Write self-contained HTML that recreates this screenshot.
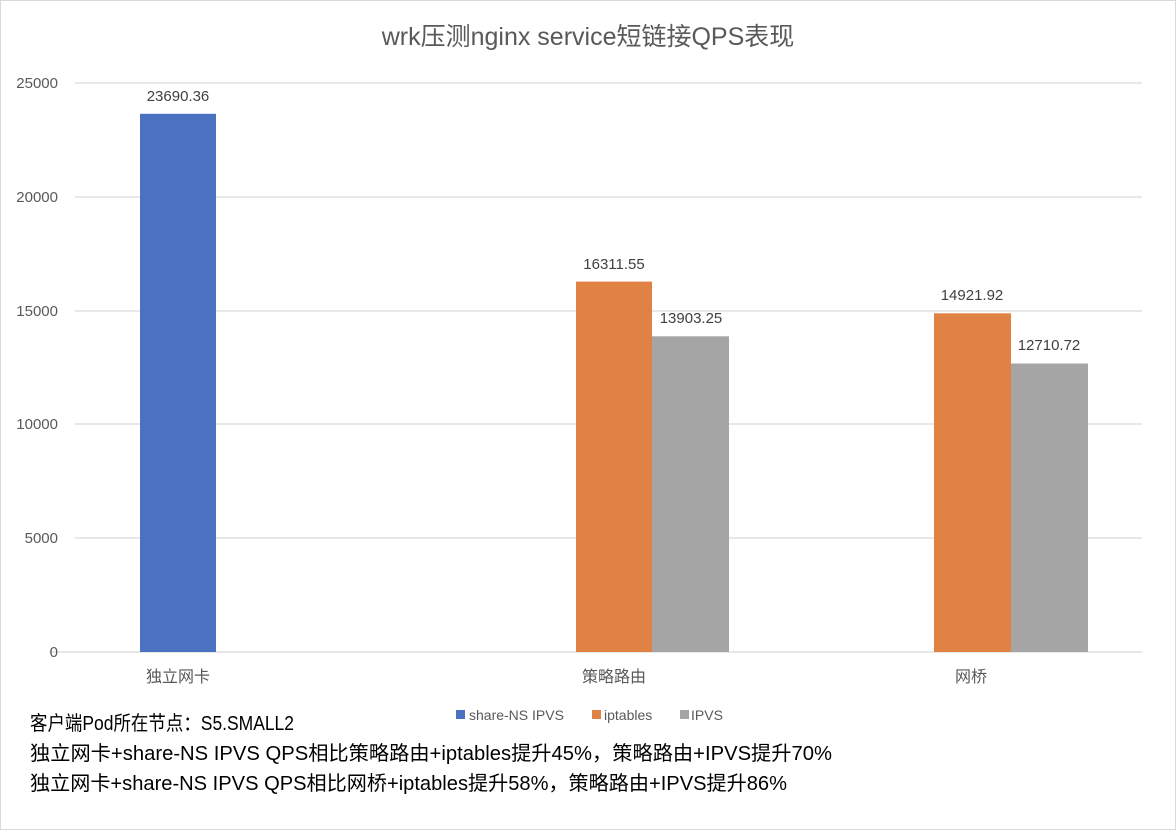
<!DOCTYPE html>
<html><head><meta charset="utf-8"><style>
body{margin:0;background:#fff}
svg text{font-family:"Liberation Sans","Noto Sans CJK SC",sans-serif}
</style></head><body>
<svg width="1176" height="830" viewBox="0 0 1176 830" xmlns="http://www.w3.org/2000/svg">
<rect x="0.5" y="0.5" width="1175" height="829" fill="#fff" stroke="#d9d9d9"/>
<text x="588" y="45" text-anchor="middle" font-size="25" fill="#595959">wrk压测nginx service短链接QPS表现</text>
<g stroke="#d9d9d9" stroke-width="1.3">
<line x1="75" x2="1142" y1="83" y2="83"/>
<line x1="75" x2="1142" y1="197" y2="197"/>
<line x1="75" x2="1142" y1="311" y2="311"/>
<line x1="75" x2="1142" y1="424" y2="424"/>
<line x1="75" x2="1142" y1="538" y2="538"/>
<line x1="49" x2="1142" y1="652" y2="652"/>
</g>
<g font-size="15" fill="#595959" text-anchor="end">
<text x="58" y="88">25000</text>
<text x="58" y="202">20000</text>
<text x="58" y="316">15000</text>
<text x="58" y="429">10000</text>
<text x="58" y="543">5000</text>
<text x="58" y="657">0</text>
</g>
<rect x="140" y="113.8" width="76" height="538.2" fill="#4a72c0"/>
<rect x="576" y="281.6" width="76" height="370.4" fill="#e08244"/>
<rect x="652" y="336.3" width="77" height="315.7" fill="#a5a5a5"/>
<rect x="934" y="313.3" width="77" height="338.7" fill="#e08244"/>
<rect x="1011" y="363.5" width="77" height="288.5" fill="#a5a5a5"/>
<g font-size="15" fill="#404040" text-anchor="middle">
<text x="178" y="101">23690.36</text>
<text x="614" y="269">16311.55</text>
<text x="691" y="323">13903.25</text>
<text x="972" y="300">14921.92</text>
<text x="1049" y="350">12710.72</text>
</g>
<g font-size="16" fill="#595959" text-anchor="middle">
<text x="178" y="682">独立网卡</text>
<text x="614" y="682">策略路由</text>
<text x="971" y="682">网桥</text>
</g>
<g font-size="14" fill="#595959">
<rect x="456" y="710" width="9" height="9" fill="#4a72c0"/><text x="469" y="720">share-NS IPVS</text>
<rect x="592" y="710" width="9" height="9" fill="#e08244"/><text x="604" y="720">iptables</text>
<rect x="680" y="710" width="9" height="9" fill="#a5a5a5"/><text x="691" y="720">IPVS</text>
</g>
<g font-size="20" fill="#000">
<text x="30" y="730" textLength="264" lengthAdjust="spacingAndGlyphs">客户端Pod所在节点：S5.SMALL2</text>
<text x="30" y="760" textLength="802" lengthAdjust="spacingAndGlyphs">独立网卡+share-NS IPVS QPS相比策略路由+iptables提升45%，策略路由+IPVS提升70%</text>
<text x="30" y="790" textLength="757" lengthAdjust="spacingAndGlyphs">独立网卡+share-NS IPVS QPS相比网桥+iptables提升58%，策略路由+IPVS提升86%</text>
</g>
</svg>
</body></html>
